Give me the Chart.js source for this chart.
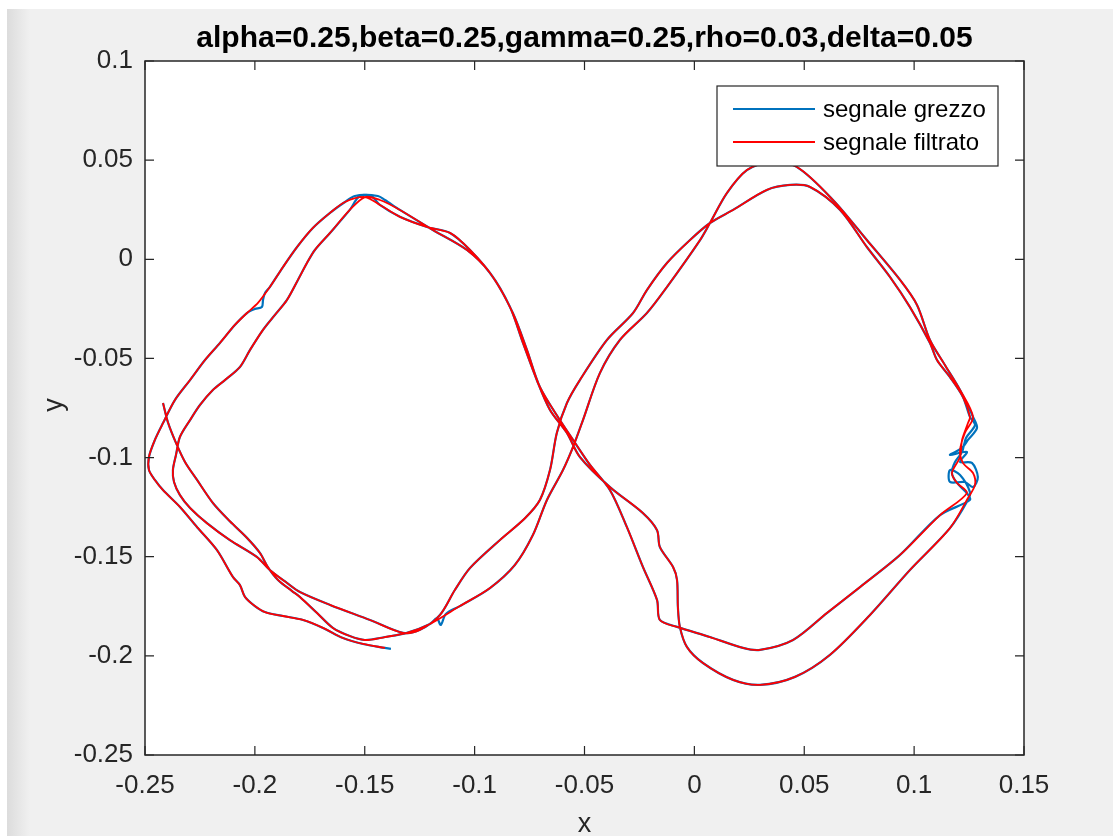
<!DOCTYPE html>
<html>
<head>
<meta charset="utf-8">
<script src="https://cdn.jsdelivr.net/npm/chart.js@4.4.1/dist/chart.umd.min.js"></script>
<style>
html,body{margin:0;padding:0;background:#fff;overflow:hidden}
canvas{display:block}
</style>
</head>
<body>
<canvas id="c" width="1113" height="836"></canvas>
<script>
const titleText = 'alpha=0.25,beta=0.25,gamma=0.25,rho=0.03,delta=0.05';
const xAxisLabel = 'x';
const yAxisLabel = 'y';
const seriesNames = ['segnale grezzo', 'segnale filtrato'];
const seriesColors = ['#0072BD', '#FF0000'];
const xTicks = [-0.25, -0.2, -0.15, -0.1, -0.05, 0, 0.05, 0.1, 0.15];
const yTicks = [-0.25, -0.2, -0.15, -0.1, -0.05, 0, 0.05, 0.1];

// raw signal (segnale grezzo)
const rawX = [
-0.2418,-0.2396,-0.2359,-0.2318,-0.2263,-0.2191,-0.2114,-0.2036,-0.1977,-0.1941,-0.1895,-0.1831,-0.1795,-0.1717,-0.1645,-0.1568,-0.1499,-0.1408,-0.1308,-0.1203,-0.1172,-0.1154,-0.1131,-0.1067,-0.0930,-0.0817,-0.0735,-0.0671,-0.0598,-0.0552,-0.0507,-0.0430,-0.0339,-0.0216,-0.0125,0.0026,0.0071,0.0148,0.0239,0.0344,0.0467,0.0631,0.0785,0.0936,0.1013,0.1072,0.1140,0.1209,0.1268,0.1286,0.1245,0.1218,0.1163,0.1240,0.1209,0.1263,0.1290,0.1268,0.1231,0.1163,0.1163,0.1209,0.1254,0.1245,0.1163,0.0981,0.0799,0.0617,0.0458,0.0299,0.0176,0.0039,-0.0034,-0.0066,-0.0075,-0.0079,-0.0097,-0.0157,-0.0170,-0.0234,-0.0384,-0.0521,-0.0580,-0.0657,-0.0717,-0.0780,-0.0839,-0.0930,-0.1035,-0.1190,-0.1340,-0.1408,-0.1440,-0.1522,
-0.1568,-0.1658,-0.1727,-0.1763,-0.1804,-0.1854,-0.1909,-0.1963,-0.2022,-0.2068,-0.2136,-0.2191,-0.2250,-0.2295,-0.2341,-0.2359,-0.2373,-0.2368,-0.2341,-0.2295,-0.2218,-0.2114,-0.1991,-0.1932,-0.1854,-0.1795,-0.1658,-0.1476,-0.1326,-0.1249,-0.1158,-0.1090,-0.1021,-0.0885,-0.0771,-0.0703,-0.0657,-0.0626,-0.0580,-0.0521,-0.0398,-0.0279,-0.0216,-0.0125,-0.0020,0.0071,0.0176,0.0330,0.0435,0.0526,0.0663,0.0785,0.0890,0.0981,0.1072,0.1104,0.1163,0.1222,0.1254,0.1277,0.1236,0.1218,0.1186,0.1172,0.1195,0.1240,0.1254,0.1118,0.0936,0.0754,0.0603,0.0449,0.0299,0.0221,0.0071,-0.0079,-0.0157,-0.0170,-0.0234,-0.0307,-0.0384,-0.0475,-0.0552,-0.0612,-0.0703,-0.0762,-0.0826,-0.0917,-0.1021,-0.1112,-0.1217,-0.1340,-0.1431,-0.1472,-0.1545,
-0.1590,-0.1658,-0.1736,-0.1808,-0.1872,-0.1932,-0.1954,-0.1963,-0.1968,-0.2000,-0.2036,-0.2091,-0.2159,-0.2227,-0.2295,-0.2364,-0.2418,-0.2455,-0.2482,-0.2482,-0.2455,-0.2418,-0.2341,-0.2263,-0.2173,-0.2100,-0.2068,-0.2045,-0.2000,-0.1954,-0.1872,-0.1781,-0.1690,-0.1599,-0.1508,-0.1408,-0.1381
];
const rawY = [
-0.0725,-0.0821,-0.0926,-0.1022,-0.1113,-0.1229,-0.1321,-0.1405,-0.1481,-0.1552,-0.1617,-0.1673,-0.1703,-0.1784,-0.1859,-0.1900,-0.1920,-0.1905,-0.1884,-0.1839,-0.1810,-0.1844,-0.1789,-0.1749,-0.1658,-0.1542,-0.1391,-0.1214,-0.1063,-0.0946,-0.0811,-0.0574,-0.0407,-0.0271,-0.0140,0.0097,0.0183,0.0334,0.0450,0.0491,0.0465,0.0299,0.0097,-0.0104,-0.0230,-0.0407,-0.0533,-0.0659,-0.0795,-0.0851,-0.0911,-0.0951,-0.0987,-0.0972,-0.1022,-0.1027,-0.1098,-0.1149,-0.1123,-0.1123,-0.1063,-0.1088,-0.1174,-0.1214,-0.1356,-0.1567,-0.1794,-0.1995,-0.2106,-0.2146,-0.2121,-0.2036,-0.1955,-0.1854,-0.1754,-0.1617,-0.1552,-0.1451,-0.1366,-0.1280,-0.1149,-0.0997,-0.0876,-0.0760,-0.0609,-0.0422,-0.0241,-0.0069,0.0047,0.0148,0.0249,0.0299,0.0319,0.0319,
0.0249,0.0133,0.0047,-0.0019,-0.0104,-0.0205,-0.0281,-0.0356,-0.0457,-0.0543,-0.0609,-0.0659,-0.0735,-0.0811,-0.0896,-0.0987,-0.1063,-0.1123,-0.1189,-0.1254,-0.1331,-0.1416,-0.1501,-0.1567,-0.1632,-0.1678,-0.1743,-0.1819,-0.1884,-0.1869,-0.1794,-0.1668,-0.1557,-0.1416,-0.1306,-0.1214,-0.1063,-0.0876,-0.0725,-0.0609,-0.0407,-0.0271,-0.0155,-0.0019,0.0097,0.0183,0.0249,0.0350,0.0375,0.0365,0.0249,0.0062,-0.0089,-0.0241,-0.0422,-0.0508,-0.0594,-0.0694,-0.0795,-0.0836,-0.0901,-0.0972,-0.1022,-0.1078,-0.1128,-0.1179,-0.1214,-0.1290,-0.1491,-0.1653,-0.1784,-0.1920,-0.1970,-0.1960,-0.1905,-0.1854,-0.1819,-0.1718,-0.1552,-0.1351,-0.1164,-0.1037,-0.0911,-0.0811,-0.0644,-0.0457,-0.0271,-0.0089,0.0047,0.0133,0.0163,0.0214,0.0274,0.0319,0.0319,
0.0289,0.0234,0.0158,0.0062,-0.0039,-0.0140,-0.0170,-0.0205,-0.0241,-0.0251,-0.0271,-0.0331,-0.0422,-0.0508,-0.0609,-0.0710,-0.0826,-0.0911,-0.0997,-0.1063,-0.1113,-0.1164,-0.1249,-0.1351,-0.1466,-0.1602,-0.1643,-0.1703,-0.1749,-0.1779,-0.1799,-0.1819,-0.1859,-0.1910,-0.1940,-0.1960,-0.1965
];

// filtered signal (segnale filtrato)
const filtX = [
-0.2418,-0.2396,-0.2359,-0.2318,-0.2263,-0.2191,-0.2114,-0.2036,-0.1977,-0.1941,-0.1895,-0.1831,-0.1795,-0.1717,-0.1645,-0.1568,-0.1499,-0.1408,-0.1308,-0.1203,-0.1067,-0.0930,-0.0817,-0.0735,-0.0671,-0.0598,-0.0552,-0.0507,-0.0430,-0.0339,-0.0216,-0.0125,0.0026,0.0071,0.0148,0.0239,0.0344,0.0467,0.0631,0.0785,0.0936,0.1013,0.1072,0.1140,0.1209,0.1268,0.1231,0.1209,0.1222,0.1268,0.1277,0.1245,0.1163,0.0981,0.0799,0.0617,0.0458,0.0299,0.0176,0.0039,-0.0034,-0.0066,-0.0075,-0.0079,-0.0097,-0.0157,-0.0170,-0.0234,-0.0384,-0.0521,-0.0580,-0.0657,-0.0717,-0.0780,-0.0839,-0.0930,-0.1035,-0.1190,-0.1340,-0.1431,-0.1499,
-0.1568,-0.1658,-0.1727,-0.1763,-0.1804,-0.1854,-0.1909,-0.1963,-0.2022,-0.2068,-0.2136,-0.2191,-0.2250,-0.2295,-0.2341,-0.2359,-0.2373,-0.2368,-0.2341,-0.2295,-0.2218,-0.2114,-0.1991,-0.1932,-0.1854,-0.1795,-0.1658,-0.1476,-0.1326,-0.1249,-0.1158,-0.1090,-0.1021,-0.0885,-0.0771,-0.0703,-0.0657,-0.0626,-0.0580,-0.0521,-0.0398,-0.0279,-0.0216,-0.0125,-0.0020,0.0071,0.0176,0.0330,0.0435,0.0526,0.0663,0.0785,0.0890,0.0981,0.1072,0.1104,0.1163,0.1222,0.1254,0.1245,0.1218,0.1209,0.1172,0.1195,0.1240,0.1118,0.0936,0.0754,0.0603,0.0449,0.0299,0.0221,0.0071,-0.0079,-0.0157,-0.0170,-0.0234,-0.0307,-0.0384,-0.0475,-0.0552,-0.0612,-0.0703,-0.0762,-0.0826,-0.0917,-0.1021,-0.1112,-0.1217,-0.1340,-0.1431,-0.1499,
-0.1590,-0.1658,-0.1736,-0.1808,-0.1872,-0.1932,-0.1986,-0.2036,-0.2091,-0.2159,-0.2227,-0.2295,-0.2364,-0.2418,-0.2455,-0.2482,-0.2482,-0.2455,-0.2418,-0.2341,-0.2263,-0.2173,-0.2100,-0.2068,-0.2045,-0.2000,-0.1954,-0.1872,-0.1781,-0.1690,-0.1599,-0.1508,-0.1408
];
const filtY = [
-0.0725,-0.0821,-0.0926,-0.1022,-0.1113,-0.1229,-0.1321,-0.1405,-0.1481,-0.1552,-0.1617,-0.1673,-0.1703,-0.1784,-0.1859,-0.1900,-0.1920,-0.1905,-0.1884,-0.1839,-0.1749,-0.1658,-0.1542,-0.1391,-0.1214,-0.1063,-0.0946,-0.0811,-0.0574,-0.0407,-0.0271,-0.0140,0.0097,0.0183,0.0334,0.0450,0.0491,0.0465,0.0299,0.0097,-0.0104,-0.0230,-0.0407,-0.0533,-0.0659,-0.0795,-0.0876,-0.0962,-0.1027,-0.1078,-0.1138,-0.1204,-0.1356,-0.1567,-0.1794,-0.1995,-0.2106,-0.2146,-0.2121,-0.2036,-0.1955,-0.1854,-0.1754,-0.1617,-0.1552,-0.1451,-0.1366,-0.1280,-0.1149,-0.0997,-0.0876,-0.0760,-0.0609,-0.0422,-0.0241,-0.0069,0.0047,0.0148,0.0249,0.0299,0.0314,
0.0249,0.0133,0.0047,-0.0019,-0.0104,-0.0205,-0.0281,-0.0356,-0.0457,-0.0543,-0.0609,-0.0659,-0.0735,-0.0811,-0.0896,-0.0987,-0.1063,-0.1123,-0.1189,-0.1254,-0.1331,-0.1416,-0.1501,-0.1567,-0.1632,-0.1678,-0.1743,-0.1819,-0.1884,-0.1869,-0.1794,-0.1668,-0.1557,-0.1416,-0.1306,-0.1214,-0.1063,-0.0876,-0.0725,-0.0609,-0.0407,-0.0271,-0.0155,-0.0019,0.0097,0.0183,0.0249,0.0350,0.0375,0.0365,0.0249,0.0062,-0.0089,-0.0241,-0.0422,-0.0508,-0.0594,-0.0694,-0.0795,-0.0826,-0.0911,-0.0997,-0.1078,-0.1128,-0.1179,-0.1290,-0.1491,-0.1653,-0.1784,-0.1920,-0.1970,-0.1960,-0.1905,-0.1854,-0.1819,-0.1718,-0.1552,-0.1351,-0.1164,-0.1037,-0.0911,-0.0811,-0.0644,-0.0457,-0.0271,-0.0089,0.0047,0.0133,0.0163,0.0214,0.0274,0.0314,
0.0289,0.0234,0.0158,0.0062,-0.0039,-0.0140,-0.0220,-0.0271,-0.0331,-0.0422,-0.0508,-0.0609,-0.0710,-0.0826,-0.0911,-0.0997,-0.1063,-0.1113,-0.1164,-0.1249,-0.1351,-0.1466,-0.1602,-0.1643,-0.1703,-0.1749,-0.1779,-0.1799,-0.1819,-0.1859,-0.1910,-0.1940,-0.1960
];

const FONT = '"Liberation Sans", Arial, Helvetica, sans-serif';
const AX = '#262626';
const fmt = v => String(parseFloat(Number(v).toFixed(2)));
const toPts = (xs, ys) => xs.map((x, i) => ({ x: x, y: ys[i] }));

const matlabPlugin = {
  id: 'matlab',
  beforeDraw(chart) {
    const { ctx, width, height, chartArea: a } = chart;
    ctx.save();
    ctx.fillStyle = '#ffffff';
    ctx.fillRect(0, 0, width, height);
    ctx.fillStyle = '#f0f0f0';
    ctx.fillRect(7, 9, width - 7, height - 9);
    const g = ctx.createLinearGradient(7, 0, 30, 0);
    g.addColorStop(0, '#dcdcdc');
    g.addColorStop(1, '#f0f0f0');
    ctx.fillStyle = g;
    ctx.fillRect(7, 9, 23, height - 9);
    ctx.fillStyle = '#ffffff';
    ctx.fillRect(a.left, a.top, a.right - a.left, a.bottom - a.top);
    ctx.restore();
  },
  afterDraw(chart) {
    const { ctx, chartArea: a, scales } = chart;
    ctx.save();
    ctx.strokeStyle = AX;
    ctx.lineWidth = 1.5;
    ctx.strokeRect(a.left, a.top, a.right - a.left, a.bottom - a.top);
    const tl = 9;
    ctx.lineWidth = 1.2;
    ctx.beginPath();
    xTicks.forEach(v => {
      const px = scales.x.getPixelForValue(v);
      ctx.moveTo(px, a.bottom); ctx.lineTo(px, a.bottom - tl);
      ctx.moveTo(px, a.top); ctx.lineTo(px, a.top + tl);
    });
    yTicks.forEach(v => {
      const py = scales.y.getPixelForValue(v);
      ctx.moveTo(a.left, py); ctx.lineTo(a.left + tl, py);
      ctx.moveTo(a.right, py); ctx.lineTo(a.right - tl, py);
    });
    ctx.stroke();
    const cx = (a.left + a.right) / 2;
    ctx.fillStyle = '#000000';
    ctx.font = 'bold 30px ' + FONT;
    ctx.textAlign = 'center';
    ctx.textBaseline = 'alphabetic';
    ctx.fillText(titleText, cx, 47);
    ctx.fillStyle = AX;
    ctx.font = '27px ' + FONT;
    ctx.fillText(xAxisLabel, cx, 832);
    ctx.save();
    ctx.translate(62, (a.top + a.bottom) / 2 - 3);
    ctx.rotate(-Math.PI / 2);
    ctx.fillText(yAxisLabel, 0, 0);
    ctx.restore();
    const lx = 717, ly = 86, lw = 281, lh = 80;
    ctx.fillStyle = '#ffffff';
    ctx.fillRect(lx, ly, lw, lh);
    ctx.strokeStyle = AX;
    ctx.lineWidth = 1.2;
    ctx.strokeRect(lx, ly, lw, lh);
    ctx.font = '24px ' + FONT;
    ctx.textAlign = 'left';
    ctx.textBaseline = 'middle';
    const rows = [109, 142];
    chart.data.datasets.forEach((ds, i) => {
      ctx.strokeStyle = ds.borderColor;
      ctx.lineWidth = 2;
      ctx.beginPath();
      ctx.moveTo(733, rows[i]); ctx.lineTo(815, rows[i]);
      ctx.stroke();
      ctx.fillStyle = '#000000';
      ctx.fillText(ds.label, 823, rows[i] + 1);
    });
    ctx.restore();
  }
};

new Chart(document.getElementById('c').getContext('2d'), {
  type: 'scatter',
  data: {
    datasets: [
      { label: seriesNames[0], data: toPts(rawX, rawY), showLine: true, borderColor: seriesColors[0],
        backgroundColor: seriesColors[0], borderWidth: 2.2, pointRadius: 0, pointHoverRadius: 0, tension: 0.3, order: 2, fill: false },
      { label: seriesNames[1], data: toPts(filtX, filtY), showLine: true, borderColor: seriesColors[1],
        backgroundColor: seriesColors[1], borderWidth: 1.8, pointRadius: 0, pointHoverRadius: 0, tension: 0.3, order: 1, fill: false }
    ]
  },
  options: {
    responsive: false,
    animation: false,
    devicePixelRatio: 1,
    events: [],
    layout: { padding: { left: 0, right: 89, top: 61, bottom: 0 } },
    plugins: { legend: { display: false }, tooltip: { enabled: false }, title: { display: false } },
    scales: {
      x: {
        type: 'linear', min: -0.25, max: 0.15,
        afterBuildTicks: s => { s.ticks = xTicks.map(v => ({ value: v })); },
        afterFit: s => { s.height = 81; },
        grid: { display: false, drawTicks: false },
        border: { display: false },
        ticks: { padding: 15, color: AX, font: { family: FONT, size: 26 }, maxRotation: 0, autoSkip: false, callback: v => fmt(v) }
      },
      y: {
        type: 'linear', min: -0.25, max: 0.1,
        afterBuildTicks: s => { s.ticks = yTicks.map(v => ({ value: v })); },
        afterFit: s => { s.width = 145; },
        grid: { display: false, drawTicks: false },
        border: { display: false },
        ticks: { padding: 12, color: AX, font: { family: FONT, size: 26 }, autoSkip: false, callback: v => fmt(v) }
      }
    }
  },
  plugins: [matlabPlugin]
});
</script>
</body>
</html>
